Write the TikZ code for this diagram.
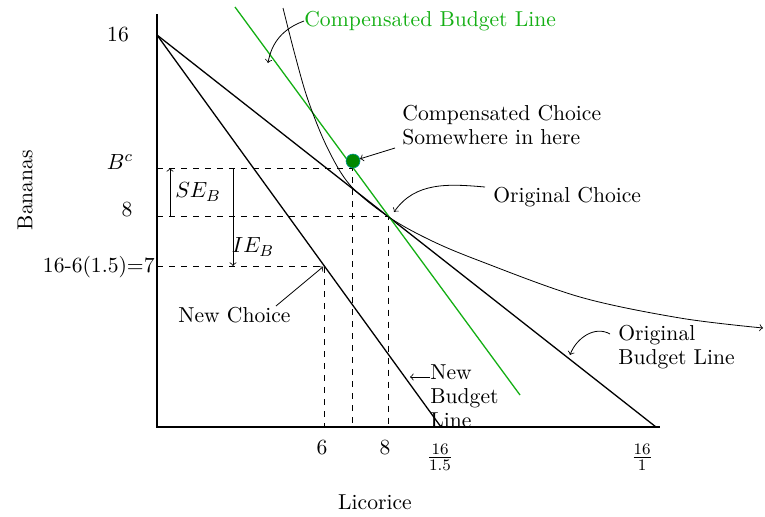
\documentclass[tikz,border=0pt]{standalone}
\usepackage{xcolor}
\definecolor{cgreen}{RGB}{20,175,20}
\definecolor{dotgreen}{RGB}{0,135,0}
\definecolor{dotrim}{RGB}{0,150,150}
\begin{document}
\begin{tikzpicture}[x=0.5pt,y=-0.5pt,
  every node/.style={font=\fontsize{10.8pt}{12pt}\selectfont},
  lab/.style={inner sep=0pt},
  axisline/.style={line width=0.6pt},
  budget/.style={line width=0.65pt},
  guide/.style={dashed,line width=0.4pt},
  pointer/.style={->,line width=0.4pt},
  >=to]
\useasboundingbox (0,0) rectangle (765,516);
% key points
\coordinate (O) at (157,427);
\coordinate (ytop) at (157,14);
\coordinate (xend) at (660,427);
\coordinate (A) at (157,35);
\coordinate (origX) at (656,427);
\coordinate (newX) at (441,427);
\coordinate (G1) at (235,7);
\coordinate (G2) at (520,395);
\coordinate (E) at (388,216.5);
\coordinate (N) at (324,266);
\coordinate (Cy) at (157,168);
\coordinate (Ey) at (157,216.5);
\coordinate (Ny) at (157,266);
\coordinate (Cd) at (352,168);
\coordinate (Cx) at (352,427);
\coordinate (Ex) at (388,427);
\coordinate (Nx) at (324,427);
% axes
\draw[axisline] (ytop) -- (O) -- (xend);
% dashed guides
\draw[guide] (Cy) -- (Cd) -- (Cx);
\draw[guide] (Ey) -- (E) -- (Ex);
\draw[guide] (Ny) -- (N) -- (Nx);
% budget lines
\draw[budget] (A) -- (origX);
\draw[budget] (A) -- (newX);
\draw[budget,cgreen] (G1) -- (G2);
% indifference curve
\draw[pointer] plot[smooth,tension=0.55] coordinates
  {(283,8) (295,55) (308,100) (327,147) (350,185) (388,216.5) (430,240) (480,261) (580,297) (680,318) (763,328)};
% compensated choice dot
\node[circle,fill=dotgreen,draw=dotrim,line width=0.3pt,minimum size=7pt,inner sep=0pt] (dot) at (353,161) {};
% SE and IE arrows
\coordinate (se1) at (170,216.5);
\coordinate (se2) at (170,168);
\coordinate (ie1) at (233,168);
\coordinate (ie2) at (233,266);
\draw[pointer] (se1) -- (se2);
\draw[pointer] (ie1) -- (ie2);
\node[lab] (seB) at (198,192) {$SE_B$};
\node[lab] (ieB) at (253,247) {$IE_B$};
% axis labels
\node[lab] (y16) at (118,35) {16};
\node[lab] (yBc) at (120,162) {$B^c$};
\node[lab] (y8) at (127,210) {8};
\node[lab,anchor=east] (y7) at (155,267) {16-6(1.5)=7};
\node[lab] (x6) at (322,448) {6};
\node[lab] (x8) at (385,448) {8};
\node[lab] (x1) at (440,457) {$\frac{16}{1.5}$};
\node[lab] (x2) at (642,457) {$\frac{16}{1}$};
\node[lab,rotate=90] (ylab) at (25,190) {Bananas};
\node[lab] (xlab) at (375,502) {Licorice};
% annotations
\node[lab,anchor=west,text=cgreen] (cbl) at (304,21) {Compensated Budget Line};
\coordinate (cblT) at (268,63);
\draw[pointer] (cbl.west) to[out=200,in=80] (cblT);
\node[lab,anchor=west,align=left] (ccl) at (402,125) {Compensated Choice\\Somewhere in here};
\coordinate (ccA) at (395,148);
\draw[pointer] (ccA) -- (dot);
\node[lab,anchor=west] (ocl) at (493,197) {Original Choice};
\coordinate (ocA) at (485,187);
\coordinate (ocT) at (394,212);
\draw[pointer] (ocA) to[out=175,in=55] (ocT);
\node[lab,anchor=west] (ncl) at (178,315) {New Choice};
\coordinate (ncA) at (276,306);
\draw[pointer,shorten >=0.5pt] (ncA) -- (N);
\node[lab,anchor=west,align=left] (nbl) at (430,396) {New\\Budget\\Line};
\coordinate (nbA) at (430,377);
\coordinate (nbT) at (410,377);
\draw[pointer] (nbA) -- (nbT);
\node[lab,anchor=west,align=left] (obl) at (618,347) {Original\\Budget Line};
\coordinate (obA) at (610,334);
\coordinate (obT) at (570,355);
\draw[pointer] (obA) to[out=150,in=70] (obT);
\end{tikzpicture}
\end{document}
